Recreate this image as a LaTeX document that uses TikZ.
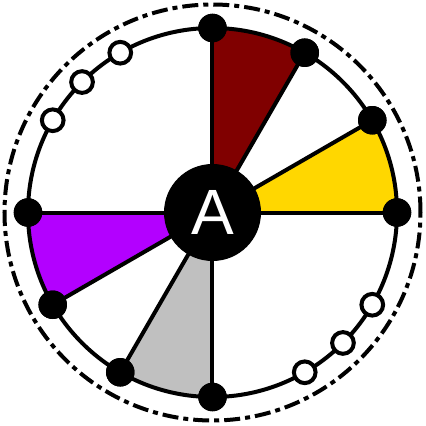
\documentclass[tikz,border=0pt]{standalone}
\usepackage{fontspec}
\newfontfamily\labfont{Liberation Sans}
\definecolor{sdarkred}{HTML}{800000}
\definecolor{syellow}{HTML}{FFD700}
\definecolor{spurple}{HTML}{B300FF}
\definecolor{sgray}{HTML}{C0C0C0}
\tikzset{
  blackdot/.style={circle,fill=black,inner sep=0pt,minimum size=28.5pt},
  whitedot/.style={circle,draw=black,fill=white,line width=4pt,inner sep=0pt,minimum size=21.7pt},
  spoke/.style={line width=4pt},
  hub/.style={circle,fill=black,inner sep=0pt,minimum size=97pt,text=white,font=\labfont\fontsize{64}{64}\selectfont},
}
\begin{document}
\begin{tikzpicture}[x=1pt,y=1pt]
\useasboundingbox (-212.5,-213.5) rectangle (213.5,212.5);
\def\R{184.5}
% sectors
\fill[sdarkred] (0,0) -- (60:\R) arc (60:90:\R) -- cycle;
\fill[syellow] (0,0) -- (0:\R) arc (0:30:\R) -- cycle;
\fill[spurple] (0,0) -- (180:\R) arc (180:210:\R) -- cycle;
\fill[sgray] (0,0) -- (240:\R) arc (240:270:\R) -- cycle;
% inner circle
\draw[line width=4pt] (0,0) circle (\R);
% nodes
\coordinate (c) at (0,0);
\foreach \a in {0,30,60,90,180,210,240,270}{
  \node[blackdot] (n\a) at (\a:\R) {};
}
\foreach \a in {0,30,60,90,180,210,240,270}{
  \draw[spoke] (c) -- (n\a.center);
}
\foreach \a in {0,30,60,90,180,210,240,270}{
  \node[blackdot] at (n\a) {};
}
\node[hub] (hub) at (c) {A};
\foreach \a in {120,135,150,300,315,330}{
  \node[whitedot] (w\a) at (\a:\R) {};
}
% outer dash-dot circle
\draw[line width=4pt,dash pattern=on 16pt off 5pt on 5pt off 5pt] (c) circle (208);
\end{tikzpicture}
\end{document}
